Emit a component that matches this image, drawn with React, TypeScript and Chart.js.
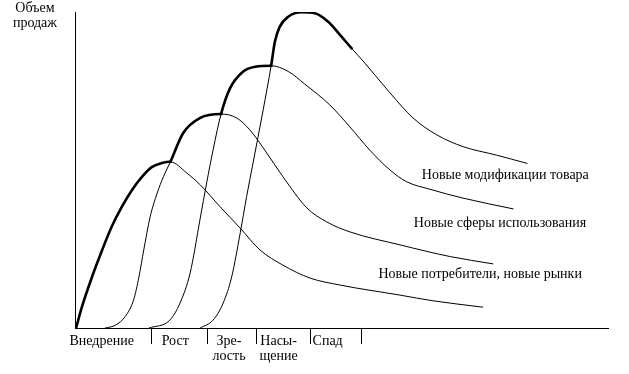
import React, { useEffect, useRef } from "react";
import { Chart, registerables } from "chart.js";

Chart.register(...registerables);

// ---- data (x: time, 0..100; y: sales volume, 0..100) ----
const stageDividers = [14.3, 24.8, 34.1, 44.1, 53.7];
const stageCenters = [5.0, 18.8, 28.9, 38.2, 47.4];
const stageLabels: (string | string[])[] = [
  "Внедрение",
  "Рост",
  ["Зре-", "лость"],
  ["Насы-", "щение"],
  "Спад",
];
const yTitle = ["Объем", "продаж"];

const baseCurve: [number, number][] = [
  [0.2, 0], [1.3, 6.7], [3.2, 16.2], [5.1, 24.7], [6.9, 32.1], [8.8, 38.4],
  [10.7, 43.7], [12.6, 47.9], [14.4, 50.9], [16.3, 52.2], [17.9, 52.6],
  [21.0, 49.0], [23.5, 45.3], [27.2, 38.4], [31.0, 31.6], [34.7, 24.7],
  [39.0, 19.9], [44.1, 15.8], [49.7, 13.6], [61.0, 10.4], [67.2, 8.6], [76.5, 6.6],
];
const marketsCurve: [number, number][] = [
  [5.7, 0], [7.6, 0.9], [9.4, 3.6], [11.0, 8.9], [12.0, 16.2], [12.9, 24.7],
  [14.1, 35.2], [15.4, 42.6], [16.6, 47.9], [17.9, 52.6], [20.3, 61.7],
  [23.5, 66.5], [27.4, 67.7], [30.3, 66.5], [32.8, 62.7], [35.6, 56.3],
  [39.0, 47.9], [43.5, 38.0], [47.2, 33.6], [51.6, 30.4], [61.0, 26.3],
  [70.4, 22.6], [78.4, 20.3],
];
const usesCurve: [number, number][] = [
  [13.9, 0], [17.8, 2.5], [19.7, 7.9], [21.6, 17.4], [23.5, 34.8], [24.7, 45.9],
  [25.9, 56.3], [27.4, 67.7], [29.1, 75.9], [31.5, 81.1], [33.8, 82.7],
  [36.8, 83.0], [40.0, 81.2], [43.1, 77.2], [47.8, 70.6], [51.6, 63.6],
  [55.3, 56.3], [59.1, 50.0], [62.2, 46.3], [66.6, 43.9], [72.8, 41.1], [82.2, 37.7],
];
const modsCurve: [number, number][] = [
  [23.5, 0], [25.9, 2.5], [27.8, 7.9], [29.4, 16.2], [31.0, 30.1], [32.2, 41.6],
  [33.4, 52.2], [35.3, 69.0], [36.8, 83.0], [37.5, 90.6], [38.4, 95.3],
  [40.0, 98.5], [42.5, 99.9], [45.0, 99.6], [47.5, 96.9], [50.0, 92.2],
  [51.9, 88.5], [54.4, 83.8], [59.1, 74.4], [63.4, 66.5], [67.9, 61.1],
  [72.8, 57.4], [79.1, 54.7], [84.8, 52.1],
];
// index ranges of each curve that belong to the bold envelope
const envelopeRanges: [number, number][] = [[0, 10], [9, 12], [7, 11], [8, 16]];

const curveLabels = [
  "Новые модификации товара",
  "Новые сферы использования",
  "Новые потребители, новые рынки",
];
const curveLabelX = [96.4, 95.9, 95.1];
const curveLabelY = [47.1, 32.0, 15.7];

const FONT = '"Liberation Serif", "Times New Roman", serif';

const curveLabelPlugin = {
  id: "curveLabels",
  afterDatasetsDraw(chart: any) {
    const { ctx, scales } = chart;
    const x = scales.x;
    const y = scales.y;
    ctx.save();
    ctx.font = `14px ${FONT}`;
    ctx.fillStyle = "#000";
    ctx.textAlign = "right";
    ctx.textBaseline = "alphabetic";
    curveLabels.forEach((t, i) => {
      ctx.fillText(t, x.getPixelForValue(curveLabelX[i]), y.getPixelForValue(curveLabelY[i]));
    });
    ctx.restore();
  },
};

const resetPadding = (s: any) => {
  s.paddingTop = 0;
  s.paddingBottom = 0;
  s.paddingLeft = 0;
  s.paddingRight = 0;
};

export default function App() {
  const ref = useRef<HTMLCanvasElement | null>(null);

  useEffect(() => {
    if (!ref.current) return;
    const curves = [baseCurve, marketsCurve, usesCurve, modsCurve];
    const chart = new Chart(ref.current, {
      type: "line",
      data: {
        datasets: curves.map((c, k) => {
          const [from, to] = envelopeRanges[k];
          return {
            data: c.map(([x, y]) => ({ x, y })),
            borderColor: "#000",
            borderWidth: 1,
            pointRadius: 0,
            pointHoverRadius: 0,
            fill: false,
            cubicInterpolationMode: "monotone" as const,
            borderCapStyle: "round" as const,
            borderJoinStyle: "round" as const,
            segment: {
              borderWidth: (ctx: any) =>
                ctx.p0DataIndex >= from && ctx.p1DataIndex <= to ? 2.6 : 1,
            },
          };
        }),
      },
      options: {
        responsive: false,
        animation: false,
        events: [],
        layout: { padding: { top: 12, right: 21, bottom: 0, left: 0 } },
        plugins: { legend: { display: false }, tooltip: { enabled: false } },
        scales: {
          x: {
            type: "linear",
            position: "bottom",
            min: 0,
            max: 100,
            afterBuildTicks: (s: any) => {
              s.ticks = stageDividers.map((v) => ({ value: v }));
            },
            afterFit: (s: any) => {
              s.height = 46;
              resetPadding(s);
            },
            grid: { drawOnChartArea: false, drawTicks: true, tickLength: 16, color: "#000", lineWidth: 1 },
            border: { display: true, color: "#000", width: 1 },
            ticks: { display: false },
          },
          xl: {
            type: "linear",
            axis: "x",
            position: { y: 0 } as any,
            min: 0,
            max: 100,
            afterBuildTicks: (s: any) => {
              s.ticks = stageCenters.map((v) => ({ value: v }));
            },
            afterFit: (s: any) => resetPadding(s),
            grid: { display: false, drawTicks: false },
            border: { display: false },
            ticks: {
              autoSkip: false,
              maxRotation: 0,
              minRotation: 0,
              padding: 6,
              color: "#000",
              font: { family: FONT, size: 14, lineHeight: "15px" },
              callback: (_v: any, i: number) => stageLabels[i],
            },
          },
          y: {
            type: "linear",
            min: 0,
            max: 100,
            afterBuildTicks: (s: any) => {
              s.ticks = [{ value: 100 }];
            },
            afterFit: (s: any) => {
              s.width = 75;
              resetPadding(s);
            },
            grid: { display: false, drawTicks: false },
            border: { display: true, color: "#000", width: 1 },
            ticks: {
              crossAlign: "center",
              padding: 18,
              labelOffset: 4,
              color: "#000",
              font: { family: FONT, size: 14, lineHeight: "15px" },
              callback: () => yTitle,
            },
          },
        },
      } as any,
      plugins: [curveLabelPlugin],
    });
    return () => chart.destroy();
  }, []);

  return (
    <div style={{ position: "absolute", left: 0, top: 0, width: 629, height: 374, background: "#fff" }}>
      <canvas ref={ref} width={629} height={374} />
    </div>
  );
}
